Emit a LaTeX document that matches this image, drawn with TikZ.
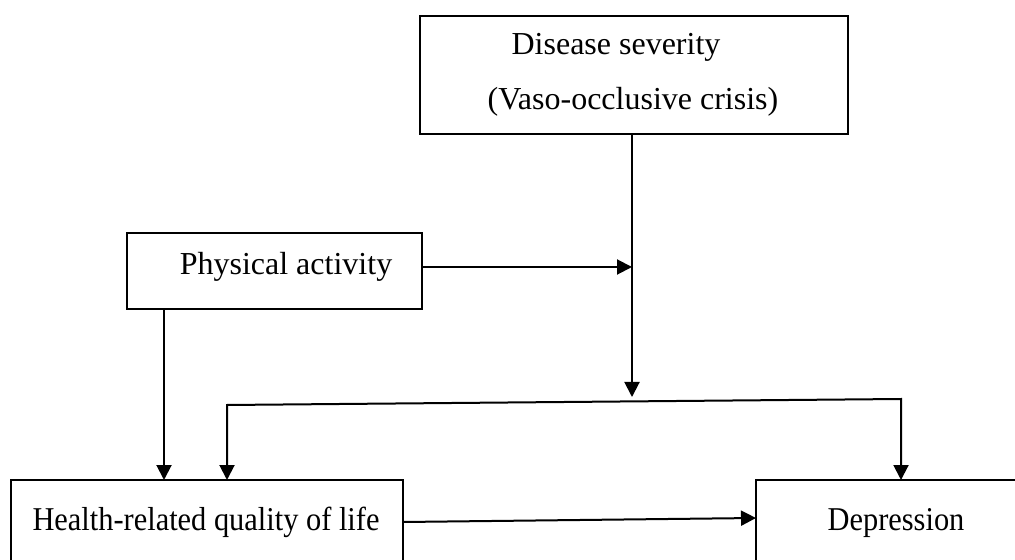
\documentclass[tikz,border=0pt]{standalone}
\usepackage{fontspec}
\setmainfont{Liberation Serif}
\usetikzlibrary{arrows.meta}
\begin{document}
\begin{tikzpicture}[x=0.5pt,y=-0.5pt,
  box/.style={draw,line width=1pt,rectangle,inner sep=0pt,outer sep=0pt},
  lbl/.style={anchor=base,inner sep=0pt,font=\fontsize{16}{19}\selectfont},
  conn/.style={line width=1pt},
  tip/.style={Triangle[length=7.5pt,width=7.5pt]},
  arr/.style={conn,-{Triangle[length=7.5pt,width=7.5pt]}}]
\useasboundingbox (0,0) rectangle (1015,560);
% boxes
\node[box,minimum width=214pt,minimum height=59pt,anchor=north west] (dis) at (420,16) {};
\node[box,minimum width=147.5pt,minimum height=38pt,anchor=north west] (phys) at (127,233) {};
\node[box,minimum width=196pt,minimum height=70pt,anchor=north west] (hrq) at (11,480) {};
\node[box,minimum width=140pt,minimum height=70pt,anchor=north west] (dep) at (756,480) {};
% texts
\node[lbl] (t1) at (616,55) {Disease severity};
\node[lbl] (t2) at (633,110) {(Vaso-occlusive crisis)};
\node[lbl] (t3) at (286,275) {Physical activity};
\node[lbl] (t4) at (206,530) {\scalebox{0.95}[1.04]{Health-related quality of life}};
\node[lbl] (t5) at (896,530) {\scalebox{0.95}[1.04]{Depression}};
% junctions
\coordinate (j) at (632,402);
\coordinate (k) at (632,267);
\coordinate (hl) at (227,405);
\coordinate (hr) at (901,399);
\coordinate (pd) at (164,0);
\coordinate (ha) at (403,522);
\coordinate (hb) at (756,518);
% connectors
\draw[conn] (dis.south -| j) -- (k);
\draw[arr] (k) -- ([yshift=2.5pt]j);
\draw[arr] (phys.east |- k) -- (k);
\draw[{Triangle[length=7.5pt,width=7.5pt]}-{Triangle[length=7.5pt,width=7.5pt]},conn]
  (hrq.north -| hl) -- (hl) -- (hr) -- (dep.north -| hr);
\draw[arr] (phys.south -| pd) -- (hrq.north -| pd);
\draw[arr] (ha) -- (hb);
\end{tikzpicture}
\end{document}
